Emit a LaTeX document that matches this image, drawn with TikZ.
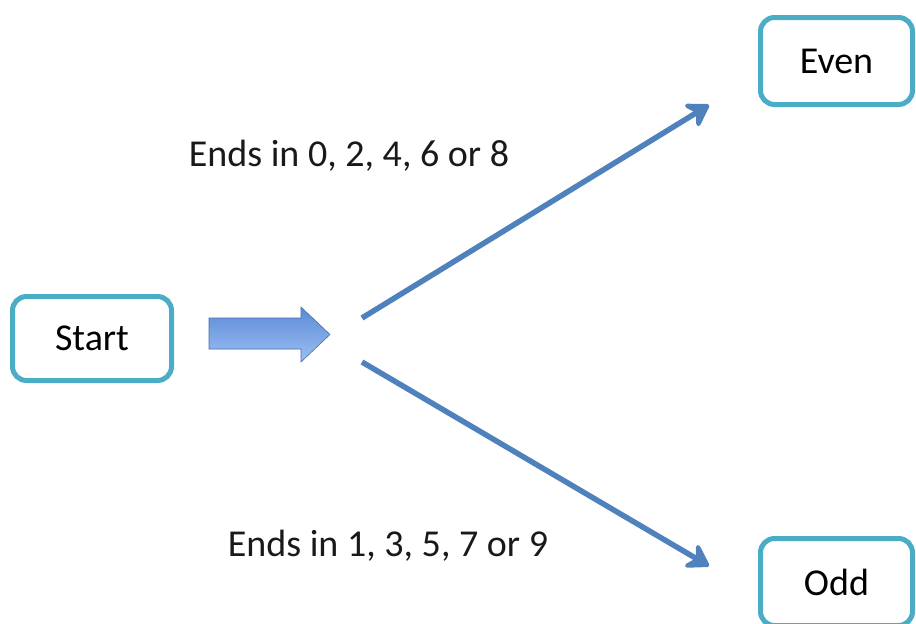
\documentclass[tikz,border=0pt]{standalone}
\usepackage{fontspec}
\setmainfont{Carlito}
\usetikzlibrary{arrows.meta}
\definecolor{boxborder}{HTML}{4BACC6}
\definecolor{arrowblue}{HTML}{4F81BD}
\definecolor{blocktop}{HTML}{5A8AD6}
\definecolor{blockbot}{HTML}{9DBFF3}
\tikzset{
  statebox/.style={draw=boxborder, line width=5pt, rounded corners=14pt, fill=white,
    minimum width=#1, minimum height=87pt, inner sep=0pt, font=\fontsize{38}{44}\selectfont},
  branch/.style={draw=arrowblue, line width=5.5pt, -{Stealth[length=27pt,width=34pt,inset=10pt,round]}},
  lbl/.style={font=\fontsize{38}{44}\selectfont, inner sep=0pt, text=black!90}
}
\begin{document}
\begin{tikzpicture}[x=1pt,y=-1pt]
\useasboundingbox (0,0) rectangle (916,624);
\begin{scope}
\clip (0,0) rectangle (916,624);
\node[statebox=159pt, minimum height=84pt] (start) at (92,338.5) {Start};
\node[statebox=152pt] (even) at (836.5,61) {Even};
\node[statebox=152pt] (odd) at (836.5,582) {Odd};
\end{scope}
\path[top color=blocktop, bottom color=blockbot, draw=blocktop!80!black, line width=0.6pt]
  (209,318) -- (301,318) -- (301,307) -- (330,334.5) -- (301,362) -- (301,349) -- (209,349) -- cycle;
\coordinate (fork1) at (362,318);
\coordinate (fork2) at (362,362);
\coordinate (evenin) at (709,105);
\coordinate (oddin) at (709,566);
\draw[branch] (fork1) -- (evenin);
\draw[branch] (fork2) -- (oddin);
\node[lbl] (evenlbl) at (349,156) {Ends in 0, 2, 4, 6 or 8};
\node[lbl] (oddlbl) at (388,546) {Ends in 1, 3, 5, 7 or 9};
\end{tikzpicture}
\end{document}
